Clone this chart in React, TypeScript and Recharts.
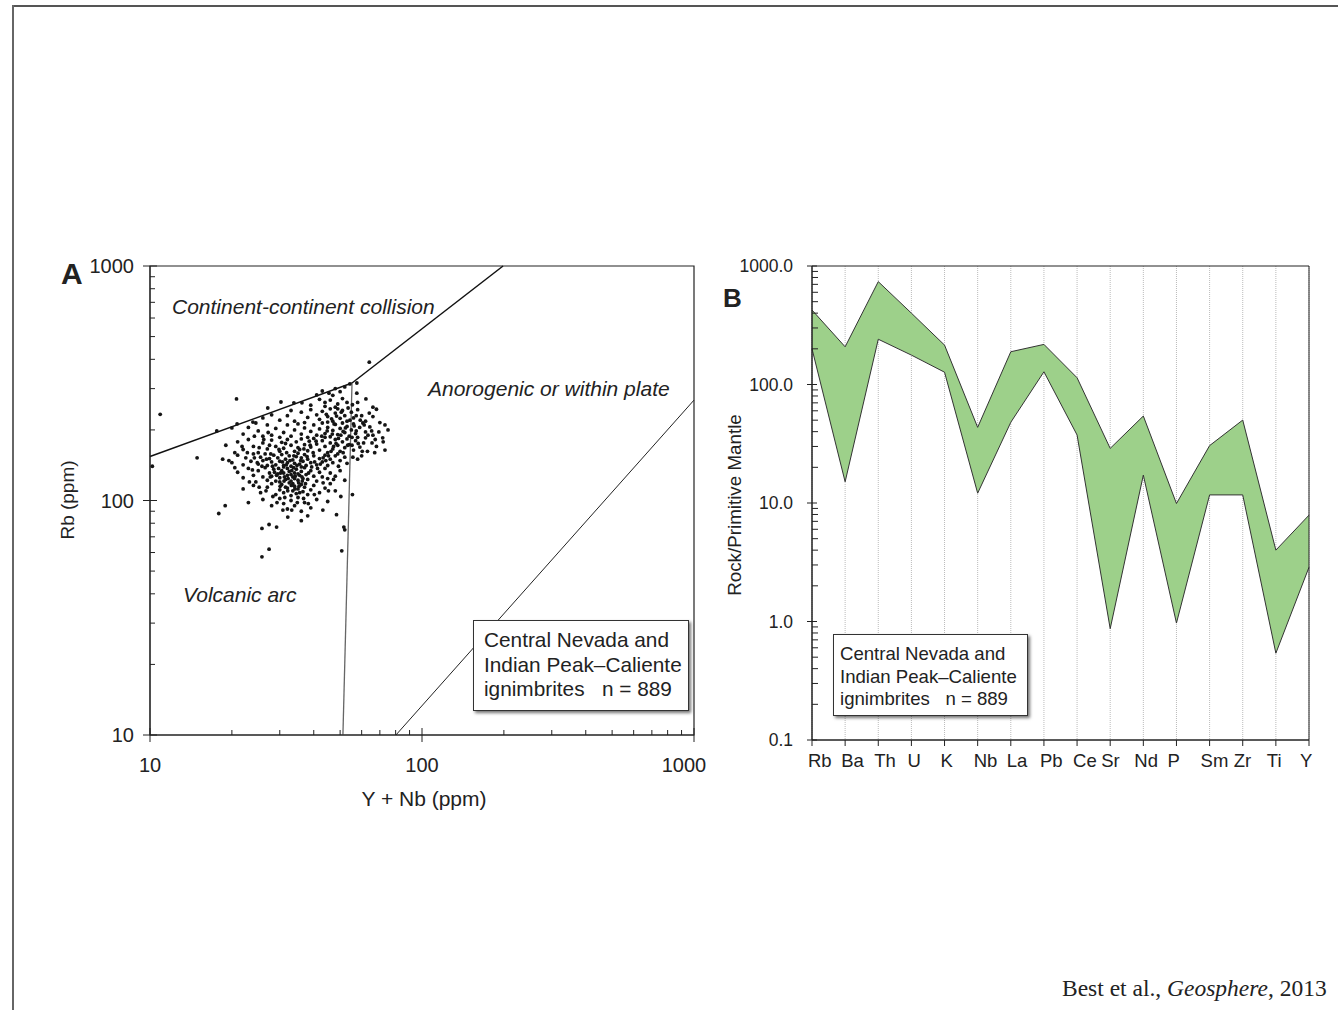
import React from "react";
import {
  ScatterChart,
  Scatter,
  AreaChart,
  Area,
  XAxis,
  YAxis,
  CartesianGrid,
  ReferenceLine,
  ReferenceArea,
} from "recharts";

// ---- Panel A: Rb vs Y+Nb (ppm) ----
const rbScatter: [number, number][] = [
  [43, 293], [45.5, 287], [48, 300], [50, 291], [52, 305], [54.3, 314], [57.6, 317], [64, 389], [41, 282], [47, 281],
  [20.8, 271], [30.3, 263], [33.8, 261], [36.2, 261], [27.1, 248], [42, 270], [44, 262], [46, 268], [49, 258], [51, 272],
  [53, 262], [55.5, 256], [57.6, 287], [62.2, 271], [48, 250], [44, 252], [39, 255], [58, 262], [66, 250],
  [23.9, 216], [24.5, 214], [20, 204], [20.9, 212], [26, 225], [28, 232], [30, 220], [32, 230], [34, 218], [36, 238],
  [38, 226], [39, 244], [41, 232], [42, 222], [43, 240], [45, 228], [46, 246], [47, 218], [48, 236], [50, 224],
  [51, 242], [52, 230], [53, 218], [55, 238], [56, 225], [58, 244], [60, 230], [62, 218], [64, 236], [68, 245],
  [66, 228], [45, 216], [49, 246], [37, 215], [33, 242], [70, 215],
  [17.6, 198], [22, 192], [23, 205], [25, 198], [27, 210], [28, 190], [29, 203], [31, 195], [32, 210], [33, 188],
  [34, 200], [35, 212], [36, 192], [37, 204], [38, 186], [39, 197], [40, 210], [41, 190], [42, 202], [43, 214],
  [44, 193], [45, 205], [46, 187], [47, 199], [48, 211], [49, 191], [50, 203], [51, 214], [52, 195], [53, 207],
  [54, 188], [55, 200], [56, 212], [57, 193], [59, 205], [60.6, 214], [62, 196], [64.3, 206], [69.4, 196], [73.1, 210],
  [71.7, 185], [66, 190], [58, 186], [44, 186], [30, 186], [26, 188], [75, 200], [62, 185],
  [19, 172], [21, 178], [22, 165], [23, 182], [24, 170], [25, 160], [26, 176], [27, 166], [28, 181], [29, 170],
  [30, 162], [30.5, 177], [31, 167], [32, 182], [33, 172], [34, 162], [34.5, 178], [35, 168], [36, 183], [37, 173],
  [38, 163], [38.5, 179], [39, 169], [40, 184], [41, 174], [42, 164], [43, 180], [44, 170], [45, 160], [46, 176],
  [47, 166], [48, 182], [49, 172], [50, 162], [51, 178], [52, 168], [53, 183], [54, 173], [55.3, 172], [56, 164],
  [57, 180], [59.1, 169], [61, 176], [65.5, 176], [73.1, 164], [68, 170], [63, 162], [35.5, 165], [31.5, 175],
  [27.5, 172], [72, 178], [67, 160],
  [18.5, 150], [20, 145], [21, 156], [22, 142], [22.5, 152], [23.5, 147], [24, 158], [25, 143], [25.5, 153], [26, 148],
  [26.5, 158], [27, 141], [27.5, 151], [28, 146], [28.5, 156], [29, 142], [29.5, 152], [30, 147], [30.5, 157], [31, 141],
  [31.5, 150], [32, 145], [32.5, 155], [33, 140], [33.5, 149], [34, 144], [34.5, 154], [35, 159], [35.5, 143], [36, 152],
  [36.5, 147], [37, 157], [37.5, 141], [38, 150], [39, 145], [40, 155], [41, 142], [42, 151], [43, 146], [44, 156],
  [45, 141], [46, 150], [47, 145], [48, 155], [50, 148], [52, 153], [55.7, 153], [53, 144], [49, 158], [14.9, 152],
  [10.2, 140], [60, 155], [58, 150], [10.9, 233],
  [21, 132], [22, 125], [23, 137], [24, 128], [24.5, 120], [25, 134], [26, 126], [26.5, 138], [27, 122], [27.5, 131],
  [28, 127], [28.5, 136], [29, 121], [29.5, 130], [30, 125], [30.5, 134], [31, 139], [31.5, 123], [32, 128], [32.5, 133],
  [33, 121], [33.5, 126], [34, 131], [34.5, 136], [35, 122], [35.5, 128], [36, 133], [36.5, 124], [37, 138], [37.5, 129],
  [38, 123], [39, 134], [40, 127], [41, 121], [42, 132], [43, 126], [44, 137], [45, 124], [46, 131], [48, 127],
  [50, 134], [52, 122], [33, 129], [32, 137], [34, 124], [31, 131], [35, 130], [30, 120], [36, 139],
  [22, 112], [24, 116], [25.5, 108], [27, 114], [28, 118], [29, 106], [30, 111], [30.5, 117], [31, 108], [32, 113],
  [32.5, 119], [33, 105], [33.5, 110], [34, 115], [34.5, 107], [35, 112], [36, 117], [36.5, 109], [37, 114], [38, 106],
  [39, 111], [40, 116], [42, 108], [44, 113], [46, 118], [48, 110], [33.5, 118], [31.5, 114], [35.5, 108],
  [17.9, 88], [18.9, 95], [23, 98], [26, 101], [28, 95], [30, 102], [31, 97], [32, 92], [33, 100], [34, 95],
  [35, 103], [36, 90], [37, 98], [39, 93], [41, 101], [30.8, 91], [33.2, 91], [32.1, 85], [43.2, 91], [48.5, 87],
  [50.3, 104], [55.5, 106], [45, 99],
  [25.8, 76], [27.4, 79], [29.2, 77], [25.8, 57.5], [27.4, 62], [51.6, 77], [50.7, 61], [52, 75], [36, 82], [38, 86],
  [29.2, 128], [30.2, 131], [31.2, 126], [32.2, 124], [33.2, 134], [34.2, 127], [35.2, 119], [36.2, 126], [33.7, 138], [31.7, 142],
  [30.7, 146], [32.7, 148], [34.7, 141], [29.7, 137], [28.7, 132], [27.7, 126], [28.2, 140], [33.1, 116], [32.1, 110], [34.1, 112],
  [31.1, 121], [30.1, 115], [35.3, 115], [36.3, 121], [37.3, 118], [38.3, 131], [39.3, 139], [40.3, 146], [41.3, 137], [42.3, 143],
  [43.3, 152], [44.3, 148], [45.3, 155], [46.3, 162], [47.3, 170], [48.3, 175], [49.3, 184], [50.3, 190], [51.3, 197], [52.3, 204],
  [47.5, 212], [46.5, 223], [44.5, 233], [48.5, 229], [50.5, 238], [53.5, 248], [46.8, 192], [44.8, 198], [42.8, 188], [40.8, 179],
  [38.8, 172], [36.8, 166], [39.8, 160], [37.8, 154], [35.8, 148], [33.8, 155], [31.8, 160], [29.8, 165], [27.8, 158], [26.8, 150],
  [25.8, 140], [24.8, 145], [23.8, 135], [24.2, 152], [22.8, 160], [25.2, 168], [26.2, 182], [27.2, 195], [24.2, 188], [21.8, 170],
  [20.5, 160], [19.5, 148], [20.5, 138], [23.2, 120], [25.2, 114], [26.7, 110], [28.3, 104], [29.3, 98], [31.3, 103], [34.8, 98],
  [36.7, 102], [38.2, 97], [40.2, 106], [43.3, 119], [45.3, 110], [47.3, 123], [49.3, 140], [51.3, 160], [53.3, 172], [55.3, 186],
  [57.3, 198], [56.3, 208], [54.3, 220], [57.3, 230], [59.3, 220], [61.3, 210], [63.3, 190], [65.3, 198], [67.3, 182], [60.3, 162],
  [58.3, 175],
];

// discrimination boundaries (x, y) in ppm
const colgBoundary: [number, number][] = [[10, 154], [55.3, 317], [198.6, 1000]];
const vagBoundary: [number, number][] = [[55.3, 317], [51.2, 10]];
const wpgBoundary: [number, number][] = [[80.2, 10], [1000, 268]];

const aXTicks = [10, 20, 30, 40, 50, 60, 70, 80, 90, 100, 200, 300, 400, 500, 600, 700, 800, 900, 1000];
const aYTicks = aXTicks;
const aMajor = [10, 100, 1000];

// ---- Panel B: primitive-mantle normalised spider diagram ----
const elements = ["Rb", "Ba", "Th", "U", "K", "Nb", "La", "Pb", "Ce", "Sr", "Nd", "P", "Sm", "Zr", "Ti", "Y"];
const bandUpper = [425, 208, 738, 400, 215, 43.5, 189, 218, 114, 28.9, 54.2, 9.9, 30.5, 50.1, 4.0, 7.9];
const bandLower = [200, 15.1, 241, 177, 127, 12.1, 48, 128, 37.5, 0.87, 17.2, 0.97, 11.7, 11.7, 0.54, 2.87];

const bYTicks = [0.1, 0.2, 0.3, 0.4, 0.5, 0.6, 0.7, 0.8, 0.9, 1, 2, 3, 4, 5, 6, 7, 8, 9, 10, 20, 30, 40, 50, 60, 70, 80, 90, 100, 200, 300, 400, 500, 600, 700, 800, 900, 1000];
const bMajor = [0.1, 1, 10, 100, 1000];

const font = "'Liberation Sans', Arial, Helvetica, sans-serif";
const ink = "#222";

const rbPoints = rbScatter.map(([x, y]) => ({ x, y }));
const spider = elements.map((el, i) => ({ el, range: [bandLower[i], bandUpper[i]] }));

const Dot = (props: any) => <circle cx={props.cx} cy={props.cy} r={1.9} fill="#151515" />;

function makeYTick(majors: number[], fmt: (v: number) => string, fs: number, gap: number, majLen: number, minLen: number) {
  return (props: any) => {
    const { x, y, payload } = props;
    const major = majors.includes(payload.value);
    return (
      <g>
        <line x1={major ? x - majLen : x} x2={x + (major ? majLen : minLen)} y1={y} y2={y} stroke={ink} strokeWidth={1} />
        {major && (
          <text x={x - gap} y={y} textAnchor="end" dominantBaseline="central" fontSize={fs} fontFamily={font} fill={ink}>
            {fmt(payload.value)}
          </text>
        )}
      </g>
    );
  };
}

const AXTick = (props: any) => {
  const { x, y, payload } = props;
  const major = aMajor.includes(payload.value);
  const shift = payload.value === 1000 ? -10 : 0;
  return (
    <g>
      <line x1={x} x2={x} y1={major ? y + 7 : y} y2={y - (major ? 7 : 5)} stroke={ink} strokeWidth={1} />
      {major && (
        <text x={x + shift} y={y + 30} textAnchor="middle" dominantBaseline="central" fontSize={20} fontFamily={font} fill={ink}>
          {payload.value}
        </text>
      )}
    </g>
  );
};

const BXTick = (props: any) => {
  const { x, y, payload, index } = props;
  const dx = index < 9 ? -4 : -9;
  return (
    <g>
      <line x1={x} x2={x} y1={y} y2={y + 6} stroke={ink} strokeWidth={1} />
      <text x={x + dx} y={y + 20} textAnchor="start" dominantBaseline="central" fontSize={18.5} fontFamily={font} fill={ink}>
        {payload.value}
      </text>
    </g>
  );
};

const AYTick = makeYTick(aMajor, (v) => String(v), 20, 16, 7, 5);
const BYTick = makeYTick(bMajor, (v) => v.toFixed(1), 17.5, 19, 5, 6);

const abs = (l: number, t: number, extra: React.CSSProperties = {}): React.CSSProperties => ({
  position: "absolute",
  left: l,
  top: t,
  fontFamily: font,
  color: ink,
  whiteSpace: "nowrap",
  ...extra,
});

export default function App() {
  return (
    <div style={{ position: "absolute", left: 0, top: 0, width: 1338, height: 1010, background: "#fff", overflow: "hidden" }}>
      {/* page frame */}
      <div style={{ position: "absolute", left: 12, top: 5, width: 1326, height: 0, borderTop: "2px solid #555" }} />
      <div style={{ position: "absolute", left: 12, top: 5, width: 0, height: 1005, borderLeft: "2px solid #666" }} />

      {/* Panel A */}
      <div style={{ position: "absolute", left: 0, top: 0 }}>
        <ScatterChart width={720} height={820} margin={{ top: 266, right: 26, bottom: 45, left: 90 }}>
          <XAxis
            type="number"
            dataKey="x"
            scale="log"
            domain={[10, 1000]}
            allowDataOverflow
            ticks={aXTicks}
            interval={0}
            tick={AXTick}
            tickLine={false}
            tickSize={0}
            tickMargin={0}
            height={40}
            axisLine={{ stroke: ink }}
          />
          <YAxis
            type="number"
            dataKey="y"
            scale="log"
            domain={[10, 1000]}
            allowDataOverflow
            ticks={aYTicks}
            interval={0}
            tick={AYTick}
            tickLine={false}
            tickSize={0}
            tickMargin={0}
            width={60}
            axisLine={{ stroke: ink }}
          />
          <ReferenceArea x1={10} x2={1000} y1={10} y2={1000} fill="none" stroke={ink} strokeWidth={1.2} />
          <ReferenceLine segment={[{ x: colgBoundary[0][0], y: colgBoundary[0][1] }, { x: colgBoundary[1][0], y: colgBoundary[1][1] }]} stroke="#111" strokeWidth={1.5} />
          <ReferenceLine segment={[{ x: colgBoundary[1][0], y: colgBoundary[1][1] }, { x: colgBoundary[2][0], y: colgBoundary[2][1] }]} stroke="#111" strokeWidth={1.5} />
          <ReferenceLine segment={[{ x: vagBoundary[0][0], y: vagBoundary[0][1] }, { x: vagBoundary[1][0], y: vagBoundary[1][1] }]} stroke="#666" strokeWidth={1.3} />
          <ReferenceLine segment={[{ x: wpgBoundary[0][0], y: wpgBoundary[0][1] }, { x: wpgBoundary[1][0], y: wpgBoundary[1][1] }]} stroke="#222" strokeWidth={1} />
          <Scatter data={rbPoints} shape={Dot} isAnimationActive={false} />
        </ScatterChart>
      </div>

      <div style={abs(61, 257, { fontSize: 30, fontWeight: "bold" })}>A</div>
      <div style={abs(68, 500, { fontSize: 19, transform: "translate(-50%, -50%) rotate(-90deg)" })}>Rb (ppm)</div>
      <div style={abs(424, 799, { fontSize: 21, transform: "translate(-50%, -50%)" })}>Y + Nb (ppm)</div>
      <div style={abs(172, 295, { fontSize: 21, fontStyle: "italic" })}>Continent-continent collision</div>
      <div style={abs(428, 377, { fontSize: 21, fontStyle: "italic" })}>Anorogenic or within plate</div>
      <div style={abs(183, 583, { fontSize: 21, fontStyle: "italic" })}>Volcanic arc</div>
      <div
        style={abs(473, 620, {
          width: 216,
          height: 91,
          boxSizing: "border-box",
          border: "1px solid #333",
          background: "#fff",
          boxShadow: "2px 2px 3px rgba(0,0,0,0.55)",
          padding: "7px 0 0 10px",
          fontSize: 20.8,
          lineHeight: "24.5px",
        })}
      >
        Central Nevada and
        <br />
        Indian Peak–Caliente
        <br />
        ignimbrites&nbsp;&nbsp; n = 889
      </div>

      {/* Panel B */}
      <div style={{ position: "absolute", left: 700, top: 0 }}>
        <AreaChart width={638} height={820} data={spider} margin={{ top: 266, right: 29, bottom: 40, left: 42 }}>
          <CartesianGrid vertical horizontal={false} stroke="#bbb" strokeDasharray="1 1" />
          <XAxis
            dataKey="el"
            interval={0}
            tick={BXTick}
            tickLine={false}
            tickSize={0}
            tickMargin={0}
            height={40}
            axisLine={{ stroke: ink }}
          />
          <YAxis
            type="number"
            scale="log"
            domain={[0.1, 1000]}
            allowDataOverflow
            ticks={bYTicks}
            interval={0}
            tick={BYTick}
            tickLine={false}
            tickSize={0}
            tickMargin={0}
            width={70}
            axisLine={{ stroke: ink }}
          />
          <Area
            type="linear"
            dataKey="range"
            stroke="#333"
            strokeWidth={1}
            fill="#9dd08a"
            fillOpacity={1}
            isAnimationActive={false}
            dot={false}
            activeDot={false}
          />
          <ReferenceArea x1="Rb" x2="Y" y1={0.1} y2={1000} fill="none" stroke={ink} strokeWidth={1} />
        </AreaChart>
      </div>

      <div style={abs(723, 283, { fontSize: 26, fontWeight: "bold" })}>B</div>
      <div style={abs(735, 505, { fontSize: 18.8, transform: "translate(-50%, -50%) rotate(-90deg)" })}>Rock/Primitive Mantle</div>
      <div
        style={abs(833, 634, {
          width: 195,
          height: 82,
          boxSizing: "border-box",
          border: "1px solid #333",
          background: "#fff",
          boxShadow: "2px 2px 3px rgba(0,0,0,0.55)",
          padding: "8px 0 0 6px",
          fontSize: 18.6,
          lineHeight: "22.5px",
        })}
      >
        Central Nevada and
        <br />
        Indian Peak–Caliente
        <br />
        ignimbrites&nbsp;&nbsp; n = 889
      </div>

      <div style={abs(1062, 975, { fontFamily: "'Liberation Serif', 'Times New Roman', serif", fontSize: 23.5 })}>
        Best et al., <i>Geosphere</i>, 2013
      </div>
    </div>
  );
}
